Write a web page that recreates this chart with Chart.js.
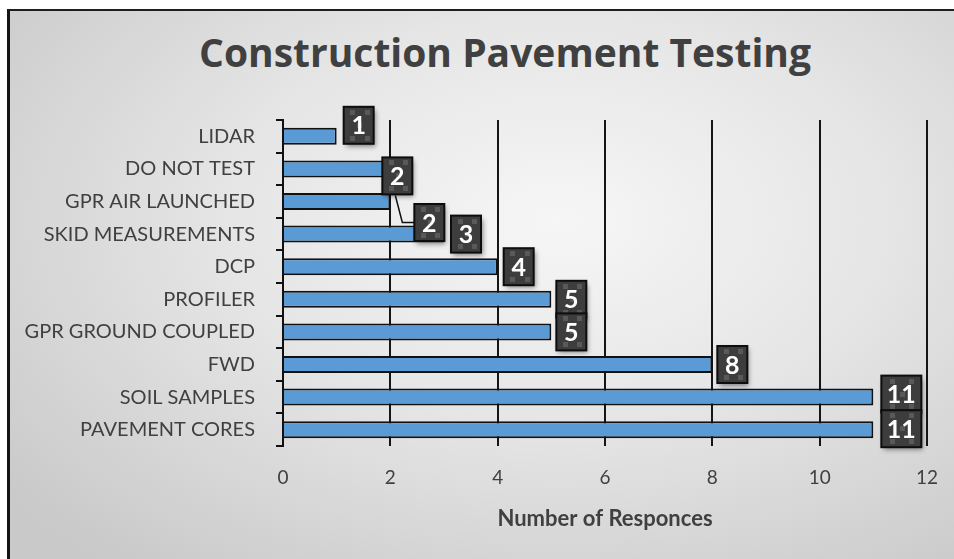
<!DOCTYPE html>
<html lang="en">
<head>
  <meta charset="UTF-8" />
  <title>Construction Pavement Testing</title>
  <script src="https://cdn.jsdelivr.net/npm/chart.js"></script>
  <style>
    html, body { margin: 0; padding: 0; background: #fff; }
    .frame {
      position: absolute; left: 7px; top: 9px; width: 944px; height: 550px;
      border-left: 3px solid #141414; border-top: 2px solid #1e1e1e;
      background: radial-gradient(ellipse 75% 80% at 58% 38%, #f6f6f6 0%, #e6e6e6 45%, #c9c9c9 100%);
    }
    .title {
      position: absolute; left: 505px; top: 32px; transform: translateX(-50%);
      font: bold 39px/39px "Open Sans", sans-serif; color: #404040; white-space: nowrap; margin: 0;
    }
    #chart { position: absolute; left: 0; top: 0; }
  </style>
</head>
<body>
  <div class="frame"></div>
  <h1 class="title">Construction Pavement Testing</h1>
  <canvas id="chart" width="954" height="559"></canvas>

  <script>
    // data
    const categories = ['LIDAR', 'DO NOT TEST', 'GPR AIR LAUNCHED', 'SKID MEASUREMENTS', 'DCP',
      'PROFILER', 'GPR GROUND COUPLED', 'FWD', 'SOIL SAMPLES', 'PAVEMENT CORES'];
    const responses = [1, 2, 2, 3, 4, 5, 5, 8, 11, 11];
    const xTicks = [0, 2, 4, 6, 8, 10, 12];

    const textColor = '#404040';

    // label box nudges (px) so they don't collide, like the manual placement in the original
    const boxNudge = [[7, -11], [-8, 7], [24, 21], [7, 0], [6, 0], [5, 0], [5, 0], [5, 0], [8, -3], [8, -1]];

    const valueBoxes = {
      id: 'valueBoxes',
      afterDatasetsDraw(chart) {
        const ctx = chart.ctx;
        const meta = chart.getDatasetMeta(0);
        meta.data.forEach((bar, i) => {
          const txt = String(responses[i]);
          const w = txt.length > 1 ? 40 : 30;
          const h = 37;
          const [dx, dy] = boxNudge[i];
          const x = bar.x + dx;
          const y = bar.y + dy - h / 2;

          // leader line for the shifted label
          if (i === 2) {
            ctx.save();
            ctx.strokeStyle = '#111';
            ctx.lineWidth = 1.5;
            ctx.beginPath();
            ctx.moveTo(bar.x + 5, bar.y - 6);
            ctx.lineTo(bar.x + 12, bar.y + 21);
            ctx.lineTo(x, bar.y + 21);
            ctx.stroke();
            ctx.restore();
          }

          ctx.save();
          ctx.shadowColor = 'rgba(0,0,0,0.45)';
          ctx.shadowBlur = 5;
          ctx.shadowOffsetX = 2;
          ctx.shadowOffsetY = 3;
          ctx.fillStyle = '#3d3d3d';
          ctx.fillRect(x, y, w, h);
          ctx.restore();

          // faint checker squares
          ctx.fillStyle = '#595959';
          const sq = 5;
          [[0.22, 0.08], [0.7, 0.08], [0.22, 0.78], [0.7, 0.78], [0.46, 0.43]].forEach(([px, py]) => {
            ctx.fillRect(Math.round(x + px * w), Math.round(y + py * h), sq, sq);
          });

          ctx.strokeStyle = '#0d0d0d';
          ctx.lineWidth = 2;
          ctx.strokeRect(x, y, w, h);

          ctx.fillStyle = '#ffffff';
          ctx.font = 'bold 25px Lato';
          ctx.textAlign = 'center';
          ctx.textBaseline = 'middle';
          ctx.fillText(txt, x + w / 2, y + h / 2 + 1);
        });
      }
    };

    new Chart(document.getElementById('chart'), {
      type: 'bar',
      data: {
        labels: categories,
        datasets: [{
          label: 'Responses',
          data: responses,
          backgroundColor: '#5b9bd5',
          borderColor: '#111111',
          borderWidth: 2,
          borderSkipped: 'start',
          barPercentage: 0.52,
          categoryPercentage: 1
        }]
      },
      options: {
        indexAxis: 'y',
        responsive: false,
        animation: false,
        layout: { padding: { left: 0, right: 27, top: 120, bottom: 0 } },
        plugins: {
          legend: { display: false },
          tooltip: { enabled: false },
          title: { display: false }
        },
        scales: {
          x: {
            min: 0,
            max: 12,
            afterBuildTicks: axis => { axis.ticks = xTicks.map(v => ({ value: v })); },
            afterFit: axis => { axis.height = 113; axis.paddingLeft = 0; axis.paddingRight = 0; },
            grid: { color: '#151515', lineWidth: 2, drawTicks: false },
            border: { display: false },
            ticks: { color: textColor, font: { family: 'Lato', size: 19 }, padding: 20 },
            title: {
              display: true,
              text: 'Number of Responces',
              color: textColor,
              font: { family: 'Lato', size: 22, weight: 'bold' },
              padding: { top: 4, bottom: 27 }
            }
          },
          y: {
            afterFit: axis => { axis.width = 283; },
            grid: { offset: true, drawOnChartArea: false, drawTicks: true, tickLength: 7, color: '#111', lineWidth: 2 },
            border: { display: true, color: '#111', width: 2 },
            ticks: { color: textColor, font: { family: 'Lato', size: 20 }, padding: 21 }
          }
        }
      },
      plugins: [valueBoxes]
    });
  </script>
</body>
</html>
